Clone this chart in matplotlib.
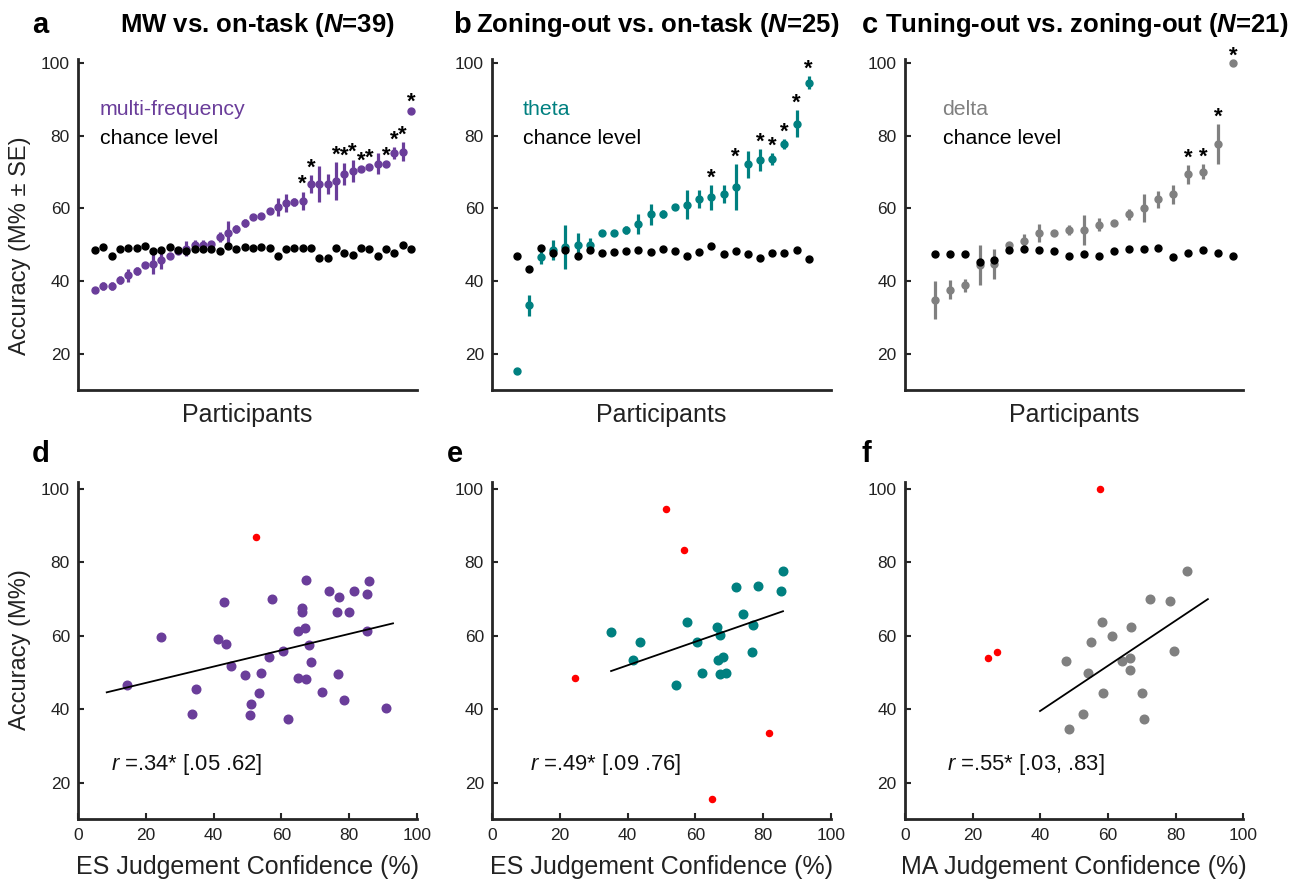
import matplotlib
matplotlib.use("Agg")
import matplotlib.pyplot as plt
import numpy as np

plt.rcParams['font.family'] = ['Liberation Sans', 'DejaVu Sans']
plt.rcParams['mathtext.fontset'] = 'custom'
plt.rcParams['mathtext.rm'] = 'Liberation Sans'
plt.rcParams['mathtext.it'] = 'Liberation Sans:italic'
plt.rcParams['mathtext.bf'] = 'Liberation Sans:bold'
plt.rcParams['mathtext.bfit'] = 'Liberation Sans:italic:bold'

# ---- top row: per-participant decoding accuracy (sorted) ----
mw_acc = [37.4, 38.5, 38.6, 40.2, 41.6, 42.7, 44.3, 44.7, 45.7, 46.8, 48.2, 48.9, 49.8,
          50.0, 50.2, 52.1, 53.2, 54.4, 55.9, 57.5, 58.0, 59.2, 60.3, 61.5, 61.6, 62.1,
          66.7, 66.7, 66.7, 67.6, 69.4, 70.3, 70.8, 71.5, 72.3, 72.1, 75.2, 75.6, 86.9]
mw_se = [0.3, 1.1, 1.1, 1.1, 1.8, 1.1, 0.3, 2.9, 2.3, 0.3, 0.3, 2.0, 1.4,
         1.4, 0.3, 1.4, 3.2, 1.1, 1.1, 0.3, 0.3, 0.3, 2.5, 2.5, 1.1, 2.5,
         2.5, 4.9, 2.7, 5.2, 3.0, 3.1, 0.3, 0.3, 3.0, 0.3, 1.6, 2.7, 0.3]
mw_chance = [48.6, 49.3, 46.8, 48.9, 49.1, 49.1, 49.6, 48.2, 48.4, 49.3, 48.4, 48.2, 48.8,
             48.9, 48.9, 48.2, 49.6, 48.8, 49.3, 49.2, 49.4, 49.1, 46.8, 48.9, 49.0, 49.0,
             49.2, 46.4, 46.3, 49.0, 47.8, 47.2, 49.1, 48.8, 47.0, 48.7, 47.6, 50.0, 48.7]
mw_sig = [25, 26, 29, 30, 31, 32, 33, 35, 36, 37, 38]

zo_acc = [15.3, 33.3, 46.6, 48.6, 49.3, 50.0, 50.0, 53.2, 53.2, 54.1, 55.7, 58.3, 58.3,
          60.3, 61.0, 62.6, 63.0, 63.9, 65.8, 72.1, 73.3, 73.5, 77.6, 83.3, 94.5]
zo_se = [0.3, 2.9, 2.0, 2.8, 6.1, 3.2, 1.8, 0.3, 0.3, 1.1, 2.8, 3.0, 1.1,
         0.3, 3.9, 2.4, 3.4, 2.5, 6.3, 3.8, 3.0, 1.6, 1.4, 3.7, 1.8]
zo_chance = [46.8, 43.4, 49.1, 47.7, 48.6, 46.8, 48.6, 47.8, 48.0, 48.3, 48.4, 48.0, 48.7,
             48.2, 46.8, 48.0, 49.5, 47.5, 48.2, 47.3, 46.3, 47.7, 47.7, 48.6, 46.1]
zo_sig = [16, 18, 20, 21, 22, 23, 24]

tu_acc = [34.7, 37.6, 38.8, 44.3, 44.6, 50.0, 51.0, 53.2, 53.2, 54.1, 54.1, 55.5, 56.0,
          58.3, 60.1, 62.5, 63.9, 69.4, 70.1, 77.8, 100.0]
tu_se = [5.3, 2.6, 1.8, 5.5, 4.1, 0.3, 2.0, 2.5, 0.9, 1.4, 4.1, 1.8, 0.3,
         1.4, 3.8, 2.3, 2.6, 2.6, 2.0, 5.5, 0.0]
tu_chance = [47.5, 47.3, 47.5, 45.2, 45.8, 48.4, 48.9, 48.6, 48.2, 47.0, 47.5, 46.8, 48.2,
             48.7, 48.7, 49.1, 46.6, 47.7, 48.6, 47.7, 46.8]
tu_sig = [17, 18, 19, 20]

# ---- bottom row: accuracy vs. judgement confidence ----
d_conf = [14.5, 24.4, 34.9, 33.7, 43.1, 41.4, 43.6, 45.2, 49.2, 51.1, 50.8, 53.4, 54.1,
          56.5, 57.3, 60.4, 61.9, 64.9, 67.1, 66.2, 66.1, 67.3, 68.1, 68.9, 64.9, 67.2,
          71.9, 74.0, 76.9, 76.5, 80.1, 76.8, 78.5, 81.6, 85.2, 85.9, 85.4, 90.9]
d_acc = [46.5, 59.8, 45.5, 38.6, 69.1, 59.1, 57.9, 51.8, 49.4, 41.5, 38.5, 44.3, 49.9,
         54.1, 69.9, 55.8, 37.3, 61.4, 62.0, 67.5, 66.5, 75.3, 57.5, 52.9, 48.5, 48.1,
         44.7, 72.2, 70.5, 66.5, 66.5, 49.5, 42.5, 72.2, 71.3, 74.9, 61.3, 40.2]
d_out_conf = [52.4]
d_out_acc = [86.8]
d_fit_x = [8.4, 93.0]
d_fit_y = [44.6, 63.4]

e_conf = [35.0, 41.5, 43.6, 54.3, 57.4, 60.5, 62.0, 66.3, 67.3, 66.8, 68.2, 67.2, 69.0,
          71.9, 74.0, 76.9, 76.8, 78.6, 85.2, 85.9]
e_acc = [61.1, 53.4, 58.4, 46.6, 63.9, 58.4, 50.0, 62.5, 60.3, 53.4, 54.3, 49.5, 50.0,
         73.4, 65.9, 62.9, 55.5, 73.6, 72.3, 77.8]
e_out_conf = [51.3, 56.6, 24.5, 81.8, 65.0]
e_out_acc = [94.5, 83.4, 48.6, 33.4, 15.6]
e_fit_x = [35.1, 85.9]
e_fit_y = [50.4, 66.7]

f_conf = [47.7, 48.4, 52.6, 54.1, 54.9, 58.2, 58.6, 61.2, 64.0, 66.4, 66.6, 66.8, 70.1,
          70.7, 72.3, 78.3, 79.4, 83.4]
f_acc = [53.2, 34.5, 38.6, 49.8, 58.2, 63.8, 44.3, 59.9, 53.2, 54.0, 50.7, 62.4, 44.3,
         37.4, 69.9, 69.4, 55.9, 77.6]
f_out_conf = [57.5, 24.6, 27.1]
f_out_acc = [100.0, 54.0, 55.5]
f_fit_x = [39.9, 89.5]
f_fit_y = [39.5, 70.0]

PURPLE = '#6a3d9a'
TEAL = '#008080'
GRAY = '#808080'
RED = '#ff0000'
AXC = '#262626'
TXT = '#222222'

W, H = 1302, 885
fig = plt.figure(figsize=(W / 100, H / 100), dpi=100)


def px_axes(left, top, width, height):
    return fig.add_axes([left / W, 1 - (top + height) / H, width / W, height / H])


def style(ax):
    for s in ['top', 'right']:
        ax.spines[s].set_visible(False)
    for s in ['left', 'bottom']:
        ax.spines[s].set_linewidth(2.0)
        ax.spines[s].set_color(AXC)
    ax.tick_params(direction='in', length=4, width=1.5, colors=AXC, labelsize=12.5,
                   labelcolor=TXT, pad=6)


lefts = [78.3, 492.3, 905.0]
AW = 338.4

top_sets = [
    (mw_acc, mw_se, mw_chance, mw_sig, PURPLE, 'multi-frequency', 39.7, 0.064),
    (zo_acc, zo_se, zo_chance, zo_sig, TEAL, 'theta', 26.8, 0.09),
    (tu_acc, tu_se, tu_chance, tu_sig, GRAY, 'delta', 21.7, 0.111),
]

for left, (acc, se, chance, sig, col, name, xmax, lx) in zip(lefts, top_sets):
    ax = px_axes(left, 59.3, AW, 330.7)
    style(ax)
    idx = np.arange(1, len(acc) + 1)
    ax.errorbar(idx, acc, yerr=se, fmt='o', color=col, ms=5, elinewidth=2.3,
                capsize=0, zorder=2)
    ax.plot(idx, chance, 'o', color='black', ms=5, zorder=3)
    for k in sig:
        ax.annotate('*', (idx[k], acc[k] + se[k]), xytext=(0, 1),
                    textcoords='offset points', ha='center', va='baseline',
                    fontsize=16, fontweight='bold', color='black')
    ax.set_xlim(-1, xmax)
    ax.set_ylim(10, 101)
    ax.set_xticks([])
    ax.set_yticks([20, 40, 60, 80, 100])
    ax.text(lx, 0.847, name, transform=ax.transAxes, color=col, fontsize=15.3,
            va='center', ha='left')
    ax.text(lx, 0.759, 'chance level', transform=ax.transAxes, color='black',
            fontsize=15.3, va='center', ha='left')
    fig.text((left + AW / 2) / W, 1 - 415 / H, 'Participants', ha='center',
             va='center', fontsize=18, color=TXT)

bottom_sets = [
    (d_conf, d_acc, d_out_conf, d_out_acc, d_fit_x, d_fit_y, PURPLE,
     r'$\mathit{r}$ =.34* [.05 .62]', 9.8, 'ES Judgement Confidence (%)'),
    (e_conf, e_acc, e_out_conf, e_out_acc, e_fit_x, e_fit_y, TEAL,
     r'$\mathit{r}$ =.49* [.09 .76]', 11.2, 'ES Judgement Confidence (%)'),
    (f_conf, f_acc, f_out_conf, f_out_acc, f_fit_x, f_fit_y, GRAY,
     r'$\mathit{r}$ =.55* [.03, .83]', 12.3, 'MA Judgement Confidence (%)'),
]

for left, (cx, cy, ox, oy, fx, fy, col, rtxt, rx, xl) in zip(lefts, bottom_sets):
    ax = px_axes(left, 481.7, AW, 337.6)
    style(ax)
    ax.plot(cx, cy, 'o', color=col, ms=6.2, zorder=2)
    ax.plot(ox, oy, 'o', color=RED, ms=4.4, zorder=2)
    ax.plot(fx, fy, '-', color='black', lw=1.3, zorder=3)
    ax.set_xlim(0, 100)
    ax.set_ylim(10, 102)
    ax.set_xticks([0, 20, 40, 60, 80, 100])
    ax.set_yticks([20, 40, 60, 80, 100])
    ax.text(rx, 25, rtxt, fontsize=15.8, va='center', ha='left', color='#111111')
    fig.text((left + AW / 2) / W, 1 - 867 / H, xl, ha='center', va='center',
             fontsize=18, color=TXT)

# y labels
fig.text(20 / W, 1 - 246 / H, 'Accuracy (M% ± SE)', rotation=90, ha='center',
         va='center', fontsize=17, color=TXT)
fig.text(20 / W, 1 - 650 / H, 'Accuracy (M%)', rotation=90, ha='center',
         va='center', fontsize=17, color=TXT)

# titles
titles = [(257, r'MW vs. on-task ($\mathbfit{N}$=39)'),
          (658, r'Zoning-out vs. on-task ($\mathbfit{N}$=25)'),
          (1086.7, r'Tuning-out vs. zoning-out ($\mathbfit{N}$=21)')]
for cxp, t in titles:
    fig.text(cxp / W, 1 - 31.7 / H, t, ha='center', va='baseline', fontsize=18.5,
             fontweight='bold')

for lx, ly, lt in [(32, 33.3, 'a'), (453, 33.3, 'b'), (862, 33.3, 'c'),
                   (32, 462, 'd'), (447, 462, 'e'), (862, 462, 'f')]:
    fig.text(lx / W, 1 - ly / H, lt, ha='left', va='baseline', fontsize=21,
             fontweight='bold')

fig.savefig('out.png', dpi=100)
